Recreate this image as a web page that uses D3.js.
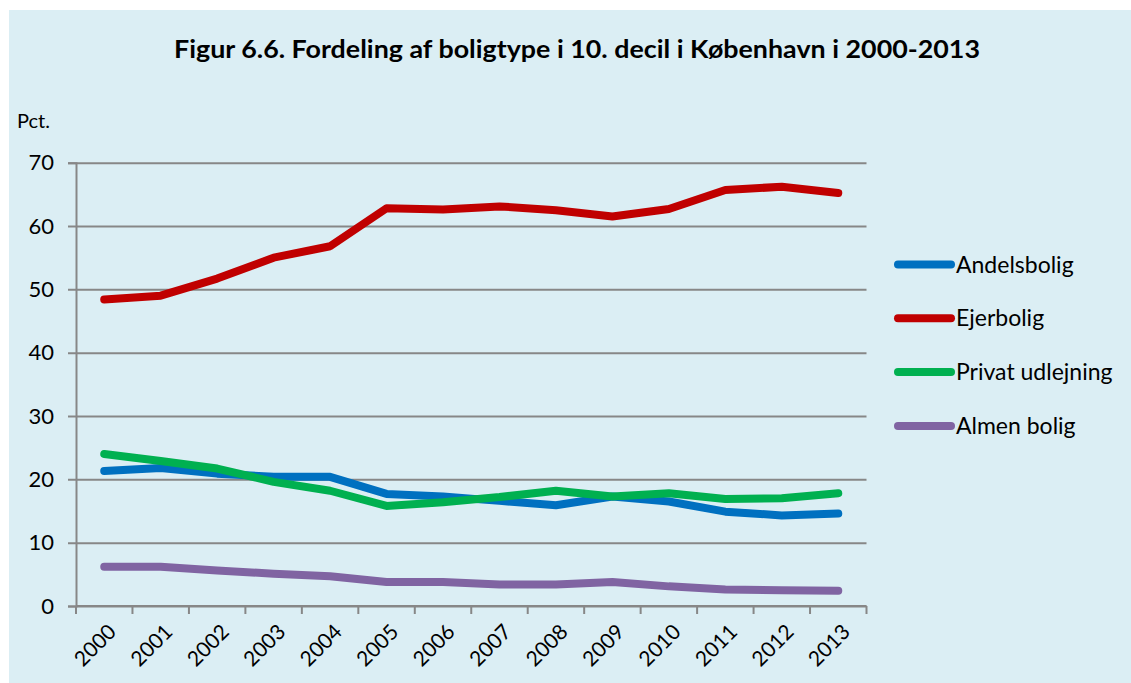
<!DOCTYPE html>
<html>
<head>
<meta charset="utf-8">
<script src="https://cdn.jsdelivr.net/npm/d3@7"></script>
<style>
  html, body { margin: 0; padding: 0; background: #ffffff; }
  svg { display: block; }
  text { font-family: Lato, "Open Sans", "DejaVu Sans", sans-serif; fill: #000; }
</style>
</head>
<body>
<svg id="chart" width="1131" height="683"></svg>
<script>
// Years on the category axis
const years = ["2000","2001","2002","2003","2004","2005","2006","2007","2008","2009","2010","2011","2012","2013"];

// Share (pct.) of each housing type in the 10th decile
const andelsbolig   = [21.3, 21.8, 20.9, 20.4, 20.4, 17.7, 17.3, 16.6, 15.9, 17.3, 16.5, 14.9, 14.3, 14.6];
const ejerbolig     = [48.4, 49.0, 51.7, 55.0, 56.8, 62.8, 62.6, 63.1, 62.5, 61.5, 62.7, 65.7, 66.2, 65.2];
const privatUdlej   = [24.0, 22.9, 21.7, 19.6, 18.2, 15.8, 16.4, 17.2, 18.2, 17.3, 17.8, 16.9, 17.0, 17.8];
const almenBolig    = [6.2, 6.2, 5.6, 5.1, 4.7, 3.8, 3.8, 3.4, 3.4, 3.8, 3.1, 2.6, 2.5, 2.4];

const seriesNames   = ["Andelsbolig", "Ejerbolig", "Privat udlejning", "Almen bolig"];
const seriesColors  = ["#0070C0", "#C00000", "#00B050", "#8064A2"];
const yTicks        = [0, 10, 20, 30, 40, 50, 60, 70];

const series = [andelsbolig, ejerbolig, privatUdlej, almenBolig].map((values, i) => ({
  name: seriesNames[i], color: seriesColors[i], values
}));

const svg = d3.select("#chart");

// Panel background
svg.append("rect")
  .attr("x", 9).attr("y", 10).attr("width", 1122).attr("height", 673)
  .attr("fill", "#DBEEF4");

// Title
svg.append("text")
  .attr("x", 577).attr("y", 58)
  .attr("text-anchor", "middle")
  .attr("font-size", 24).attr("font-weight", "bold")
  .attr("textLength", 806).attr("lengthAdjust", "spacingAndGlyphs")
  .text("Figur 6.6. Fordeling af boligtype i 10. decil i København i 2000-2013");

// Unit label
svg.append("text")
  .attr("x", 17).attr("y", 128)
  .attr("font-size", 20)
  .text("Pct.");

const plot = { left: 76, right: 866.5, top: 162.7, bottom: 606 };

const x = d3.scaleBand().domain(years).range([plot.left, plot.right]).padding(0);
const y = d3.scaleLinear().domain([0, 70]).range([plot.bottom, plot.top]);

const gridColor = "#878787";

// Horizontal gridlines with outward ticks
const yAxis = d3.axisLeft(y).tickValues(yTicks).tickSize(8).tickPadding(14).tickFormat(d3.format("d"));
const gy = svg.append("g").attr("transform", `translate(${plot.left},0)`).call(yAxis);
gy.select(".domain").attr("stroke", gridColor).attr("stroke-width", 2);
gy.selectAll(".tick line").attr("stroke", gridColor).attr("stroke-width", 2)
  .attr("x1", -8).attr("x2", plot.right - plot.left);
gy.selectAll(".tick text")
  .attr("font-size", 22).attr("fill", "#000")
  .style("font-family", "Lato, 'Open Sans', sans-serif");

// Category axis: ticks at band boundaries
const xBoundaries = years.map(yr => x(yr)).concat([plot.right]);
const gx = svg.append("g");
gx.append("line")
  .attr("x1", plot.left).attr("x2", plot.right)
  .attr("y1", plot.bottom).attr("y2", plot.bottom)
  .attr("stroke", gridColor).attr("stroke-width", 2);
gx.selectAll("line.tk").data(xBoundaries).join("line")
  .attr("class", "tk")
  .attr("x1", d => d).attr("x2", d => d)
  .attr("y1", plot.bottom).attr("y2", plot.bottom + 8)
  .attr("stroke", gridColor).attr("stroke-width", 2);

// Rotated year labels
gx.selectAll("text").data(years).join("text")
  .attr("transform", d => `translate(${x(d) + x.bandwidth() / 2 + 8},${plot.bottom + 22}) rotate(-45)`)
  .attr("text-anchor", "end")
  .attr("dy", "0.35em")
  .attr("font-size", 21)
  .text(d => d);

// Series lines
const line = d3.line()
  .x((d, i) => x(years[i]) + x.bandwidth() / 2)
  .y(d => y(d));

svg.append("g").selectAll("path").data(series).join("path")
  .attr("d", d => line(d.values))
  .attr("fill", "none")
  .attr("stroke", d => d.color)
  .attr("stroke-width", 8)
  .attr("stroke-linecap", "round")
  .attr("stroke-linejoin", "round");

// Legend
const legendTop = 264.5, legendStep = 53.8;
const lg = svg.append("g").selectAll("g").data(series).join("g")
  .attr("transform", (d, i) => `translate(0,${legendTop + i * legendStep})`);
lg.append("line")
  .attr("x1", 898).attr("x2", 951)
  .attr("stroke", d => d.color)
  .attr("stroke-width", 8)
  .attr("stroke-linecap", "round");
lg.append("text")
  .attr("x", 956).attr("y", 0).attr("dy", "0.35em")
  .attr("font-size", 23)
  .text(d => d.name);
</script>
</body>
</html>
